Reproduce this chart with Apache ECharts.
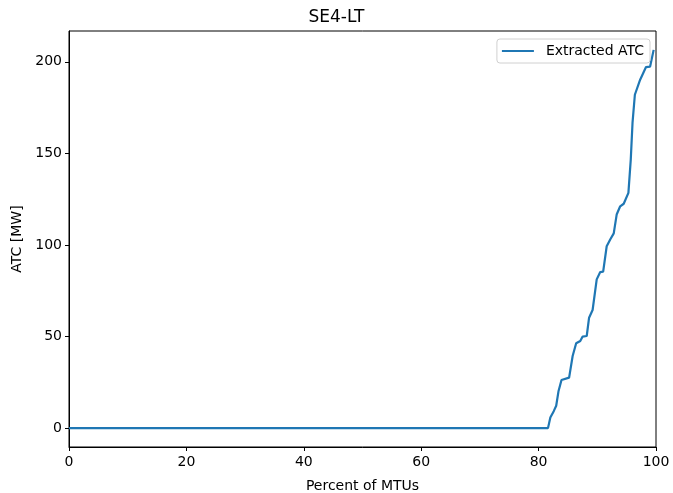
<!DOCTYPE html>
<html>
<head>
<meta charset="utf-8">
<script src="https://cdn.jsdelivr.net/npm/echarts@6/dist/echarts.min.js"></script>
<style>html,body{margin:0;padding:0;background:#fff}#c{width:673px;height:493px}</style>
</head>
<body>
<div id="c"></div>
<script>
const titleText = 'SE4-LT';
const seriesName = 'Extracted ATC';
const xLabel = 'Percent of MTUs';
const yLabel = 'ATC [MW]';
const pct = [0, 81.6, 82.0, 82.6, 83.0, 83.4, 83.9, 85.2, 85.8, 86.4, 87.1, 87.5, 88.2, 88.6, 89.2, 89.9, 90.5, 91.0, 91.6, 92.2, 92.8, 93.3, 93.9, 94.5, 95.3, 95.7, 96.0, 96.4, 97.3, 98.3, 99.0, 99.6];
const atc = [0, 0, 5.8, 9.4, 12.2, 20.3, 26.3, 27.6, 39.4, 46.3, 47.6, 50, 50.3, 60.3, 64.5, 81.2, 85.2, 85.4, 99.3, 103, 106.3, 116.6, 121.1, 122.5, 128.4, 146.6, 166.6, 182, 190.2, 197.1, 197.4, 206.5];
const yTicks = [0, 50, 100, 150, 200];
const xTicks = [0, 20, 40, 60, 80, 100];

const font = 'DejaVu Sans';
const chart = echarts.init(document.getElementById('c'), null, {renderer: 'canvas'});
chart.setOption({
  animation: false,
  backgroundColor: '#fff',
  textStyle: {fontFamily: font},
  title: {text: titleText, left: 'center', top: 4, textStyle: {fontFamily: font, fontSize: 17, fontWeight: 'normal', color: '#000'}},
  grid: {left: 69, right: 17, top: 31, bottom: 46, outerBoundsMode: 'none', containLabel: false, show: true, borderColor: '#000', borderWidth: 1, backgroundColor: 'transparent'},
  legend: {
    right: 23, top: 39, padding: [5, 6, 5, 5], itemGap: 0,
    borderColor: '#d0d0d0', borderWidth: 1, borderRadius: 3, backgroundColor: 'rgba(255,255,255,0.8)',
    itemWidth: 32, itemHeight: 10,
    textStyle: {fontFamily: font, fontSize: 14, color: '#000', padding: [0, 0, 0, 7]},
    data: [{name: seriesName, icon: 'path://M0,4 L32,4 L32,6 L0,6 Z'}]
  },
  xAxis: {
    type: 'value', min: 0, max: 100, interval: 20,
    name: xLabel, nameLocation: 'middle', nameGap: 32,
    nameTextStyle: {fontFamily: font, fontSize: 14, color: '#000'},
    axisLine: {show: true, onZero: false, lineStyle: {color: '#000', width: 1}},
    axisTick: {show: true, inside: false, length: 4, lineStyle: {color: '#000'}},
    axisLabel: {fontFamily: font, fontSize: 14, color: '#000', margin: 8, customValues: xTicks},
    splitLine: {show: false}
  },
  yAxis: {
    type: 'value', min: -10.3, max: 216.8,
    name: yLabel, nameLocation: 'middle', nameGap: 45,
    nameTextStyle: {fontFamily: font, fontSize: 14, color: '#000'},
    axisLine: {show: true, onZero: false, lineStyle: {color: '#000', width: 1}},
    axisTick: {show: true, inside: false, length: 4, lineStyle: {color: '#000'}, customValues: yTicks},
    axisLabel: {fontFamily: font, fontSize: 14, color: '#000', margin: 7, customValues: yTicks},
    splitLine: {show: false}
  },
  series: [{
    name: seriesName, type: 'line', showSymbol: false, symbol: 'none',
    lineStyle: {color: '#1f77b4', width: 2.2}, itemStyle: {color: '#1f77b4'},
    data: pct.map((p, i) => [p, atc[i]])
  }]
});
</script>
</body>
</html>
